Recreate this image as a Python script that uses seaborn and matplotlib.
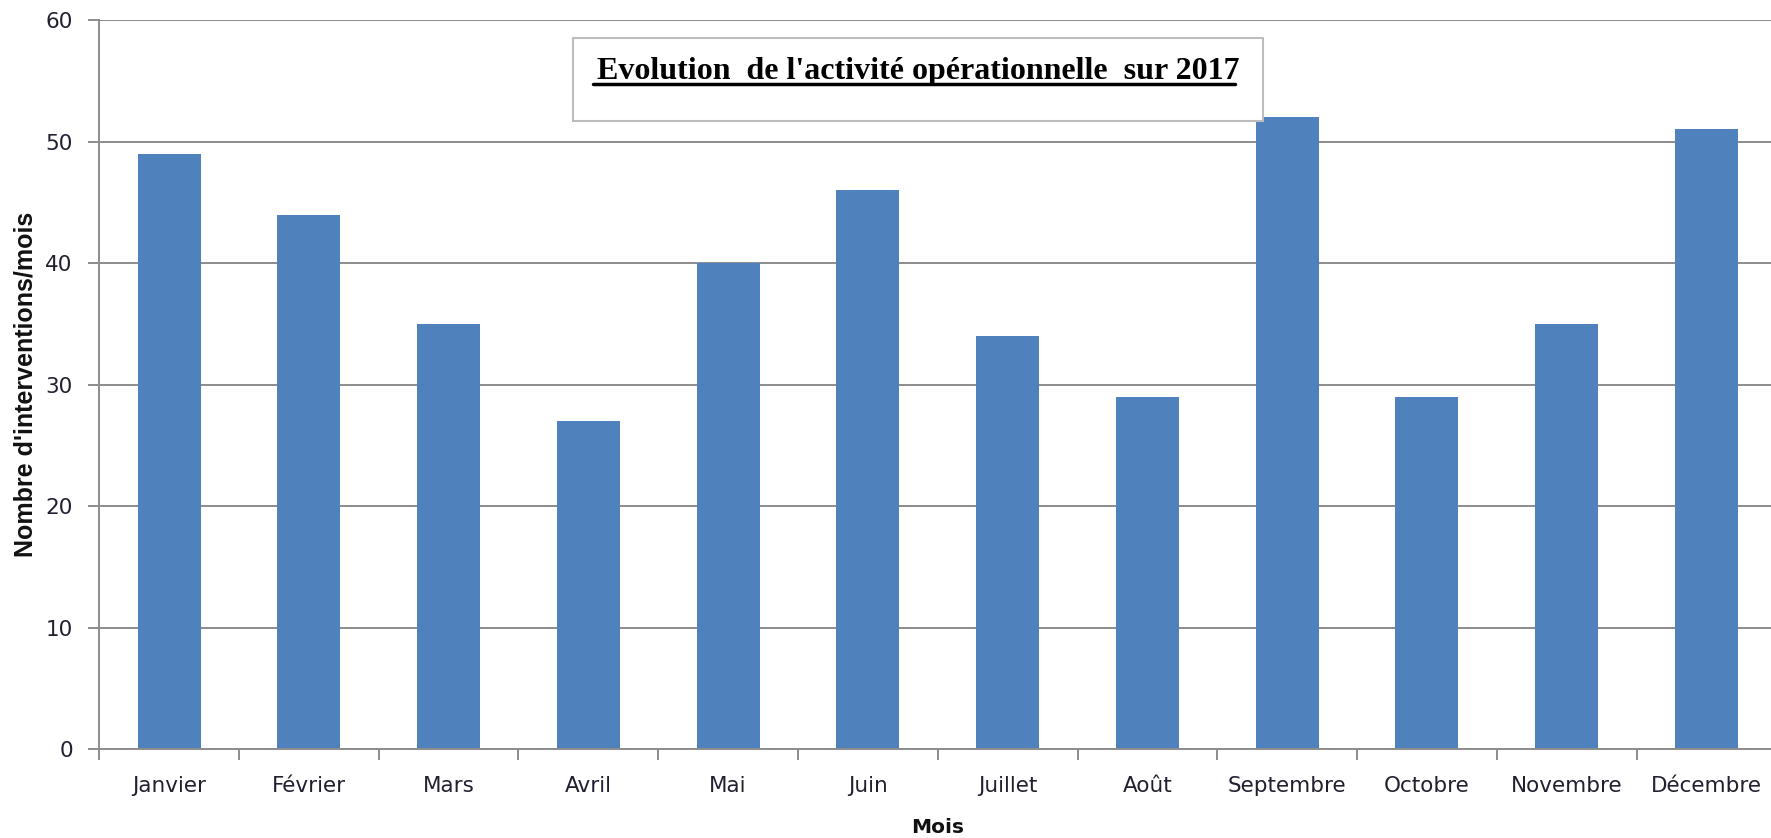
import matplotlib
matplotlib.use("Agg")
import matplotlib.pyplot as plt
import seaborn as sns
import pandas as pd
import numpy as np
from matplotlib.patches import Rectangle

months = ["Janvier", "Février", "Mars", "Avril", "Mai", "Juin", "Juillet",
          "Août", "Septembre", "Octobre", "Novembre", "Décembre"]
values = [49, 44, 35, 27, 40, 46, 34, 29, 52, 29, 35, 51]
yticks = [0, 10, 20, 30, 40, 50, 60]
title = "Evolution  de l'activité opérationnelle  sur 2017"

sns.set_theme(style="white")
plt.rcParams['font.family'] = ['DejaVu Sans']

df = pd.DataFrame({"Mois": months, "Valeur": values})

fig = plt.figure(figsize=(17.71, 8.38), dpi=100)
ax = fig.add_axes([0.056, 0.106, 0.947, 0.870])

sns.barplot(data=df, x="Mois", y="Valeur", color="#4F81BD", width=0.45,
            saturation=1, ax=ax, edgecolor="none")

ax.set_ylim(0, 60)
ax.set_yticks(yticks)
ax.set_xlim(-0.5, len(months) - 0.5)
ax.yaxis.grid(True, color="#8c8c8c", linewidth=1.4)
ax.set_axisbelow(True)

for s in ["top", "right"]:
    ax.spines[s].set_visible(False)
for s in ["left", "bottom"]:
    ax.spines[s].set_color("#8c8c8c")
    ax.spines[s].set_linewidth(1.4)

tick_color = "#202030"
ax.set_xticks(range(len(months)))
ax.set_xticklabels(months)
ax.set_xticks(np.arange(-0.5, len(months), 1.0), minor=True)
ax.tick_params(axis="x", which="major", length=0, pad=19, labelsize=15.5,
               labelcolor=tick_color)
ax.tick_params(axis="x", which="minor", length=8, width=1.4, color="#8c8c8c",
               direction="out", bottom=True)
ax.tick_params(axis="y", length=8, width=1.4, color="#8c8c8c", left=True,
               direction="out", labelsize=15.5, labelcolor=tick_color, pad=11)

ax.set_xlabel("Mois", fontsize=14.5, fontweight="bold", labelpad=16,
              color="#111111")
ax.set_ylabel("Nombre d'interventions/mois", fontsize=18, fontweight="bold",
              labelpad=6, color="#111111",
              family=["Liberation Sans Narrow", "Liberation Sans"])

# title box
box = Rectangle((573 / 1771, 1 - 121 / 838), (1263 - 573) / 1771, (121 - 38) / 838,
                transform=fig.transFigure, facecolor="white",
                edgecolor="#bdbdbd", linewidth=1.5, zorder=5)
fig.patches.append(box)
fig.text(918 / 1771, 1 - 79 / 838, title, ha="center", va="baseline",
         fontsize=23, fontweight="bold", family=["Liberation Serif"],
         color="black", zorder=6)
# underline
fig.add_artist(plt.Line2D([593 / 1771, 1235 / 1771], [1 - 84 / 838, 1 - 84 / 838],
                          transform=fig.transFigure, color="black",
                          linewidth=2.5, zorder=6))

fig.savefig("out.png", dpi=100)
